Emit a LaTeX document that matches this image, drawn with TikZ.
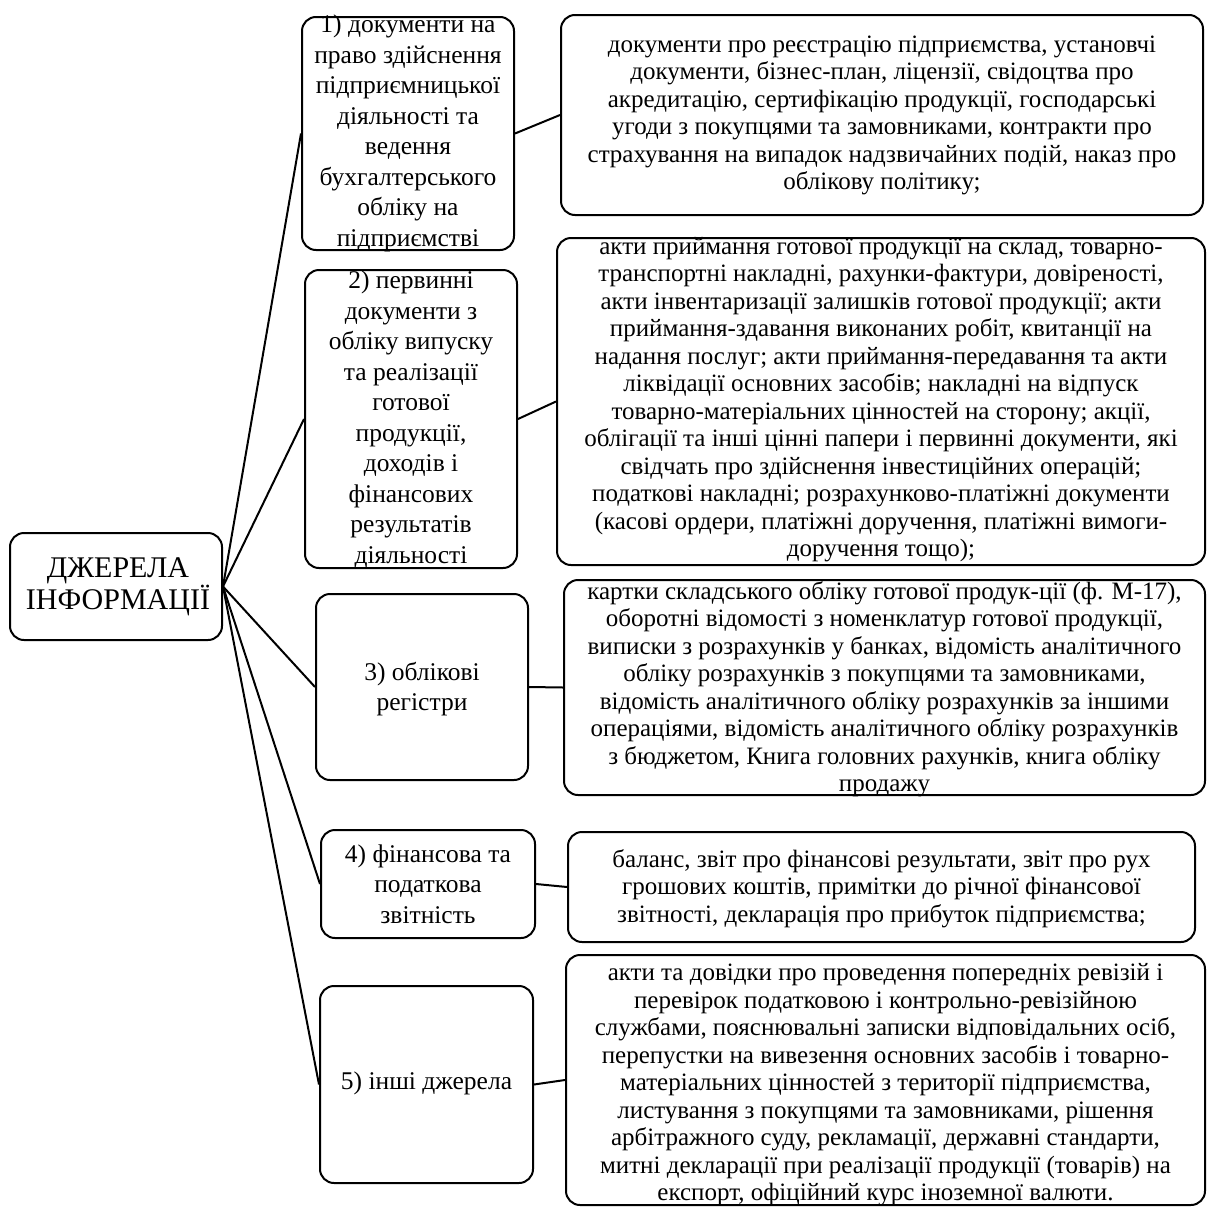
\documentclass[tikz,border=0pt]{standalone}
\usepackage{fontspec}
\setmainfont{Liberation Serif}
\begin{document}
\begin{tikzpicture}[x=1pt,y=-1pt,
  box/.style={draw=black, line width=2pt, rounded corners=14pt, fill=white, inner sep=0pt},
  txtR/.style={align=center, inner sep=0pt, font=\fontsize{25}{27.5}\selectfont},
  txtL/.style={align=center, inner sep=0pt, font=\fontsize{25.5}{30.5}\selectfont},
  conn/.style={line width=2pt}]
\useasboundingbox[fill=white] (0,0) rectangle (1208,1210);

% boxes
\node[box, minimum width=212pt, minimum height=107pt] (main) at (116,586.5) {};
\node[box, minimum width=212pt, minimum height=233pt] (b1) at (408,133.5) {};
\node[box, minimum width=212pt, minimum height=298pt] (b2) at (411,419) {};
\node[box, minimum width=212pt, minimum height=186pt] (b3) at (422,687) {};
\node[box, minimum width=214pt, minimum height=108pt] (b4) at (428,884) {};
\node[box, minimum width=213pt, minimum height=197pt] (b5) at (426.5,1084.5) {};
\node[box, minimum width=642pt, minimum height=200pt] (r1) at (882,115) {};
\node[box, minimum width=648pt, minimum height=327pt] (r2) at (881,401.5) {};
\node[box, minimum width=641pt, minimum height=215pt] (r3) at (884.5,687.5) {};
\node[box, minimum width=627pt, minimum height=110pt] (r4) at (881.5,887) {};
\node[box, minimum width=639pt, minimum height=250pt] (r5) at (885.5,1080) {};

% connectors
\foreach \b in {b1,b2,b3,b4,b5}{\draw[conn] (main.east) -- (\b.west);}
\draw[conn] (b1.east) -- (r1.west);
\draw[conn] (b2.east) -- (r2.west);
\draw[conn] (b3.east) -- (r3.west);
\draw[conn] (b4.east) -- (r4.west);
\draw[conn] (b5.east) -- (r5.west);

% texts
\node[align=center, inner sep=0pt, font=\fontsize{30}{32}\selectfont] (tm) at (118,587) {ДЖЕРЕЛА\\ІНФОРМАЦІЇ};
\node[txtL] (t1) at (408,133.5) {1) документи на\\право здійснення\\підприємницької\\діяльності та\\ведення\\бухгалтерського\\обліку на\\підприємстві};
\node[txtL] (t2) at (411,419.5) {2) первинні\\документи з\\обліку випуску\\та реалізації\\готової\\продукції,\\доходів і\\фінансових\\результатів\\діяльності};
\node[txtL] (t3) at (422,689) {3) облікові\\регістри};
\node[txtL] (t4) at (428,884) {4) фінансова та\\податкова\\звітність};
\node[txtL] (t5) at (426.5,1083) {5) інші джерела};

\node[txtR] (s1) at (882,115.5) {документи про реєстрацію підприємства, установчі\\документи, бізнес-план, ліцензії, свідоцтва про\\акредитацію, сертифікацію продукції, господарські\\угоди з покупцями та замовниками, контракти про\\страхування на випадок надзвичайних подій, наказ про\\облікову політику;};
\node[txtR] (s2) at (881,399.5) {акти приймання готової продукції на склад, товарно-\\транспортні накладні, рахунки-фактури, довіреності,\\акти інвентаризації залишків готової продукції; акти\\приймання-здавання виконаних робіт, квитанції на\\надання послуг; акти приймання-передавання та акти\\ліквідації основних засобів; накладні на відпуск\\товарно-матеріальних цінностей на сторону; акції,\\облігації та інші цінні папери і первинні документи, які\\свідчать про здійснення інвестиційних операцій;\\податкові накладні; розрахунково-платіжні документи\\(касові ордери, платіжні доручення, платіжні вимоги-\\доручення тощо);};
\node[txtR] (s3) at (884.5,689) {картки складського обліку готової продук-ції (ф. М-17),\\оборотні відомості з номенклатур готової продукції,\\виписки з розрахунків у банках, відомість аналітичного\\обліку розрахунків з покупцями та замовниками,\\відомість аналітичного обліку розрахунків за іншими\\операціями, відомість аналітичного обліку розрахунків\\з бюджетом, Книга головних рахунків, книга обліку\\продажу};
\node[txtR] (s4) at (881.5,888.5) {баланс, звіт про фінансові результати, звіт про рух\\грошових коштів, примітки до річної фінансової\\звітності, декларація про прибуток підприємства;};
\node[txtR] (s5) at (885.5,1085) {акти та довідки про проведення попередніх ревізій і\\перевірок податковою і контрольно-ревізійною\\службами, пояснювальні записки відповідальних осіб,\\перепустки на вивезення основних засобів і товарно-\\матеріальних цінностей з території підприємства,\\листування з покупцями та замовниками, рішення\\арбітражного суду, рекламації, державні стандарти,\\митні декларації при реалізації продукції (товарів) на\\експорт, офіційний курс іноземної валюти.};
\end{tikzpicture}
\end{document}
